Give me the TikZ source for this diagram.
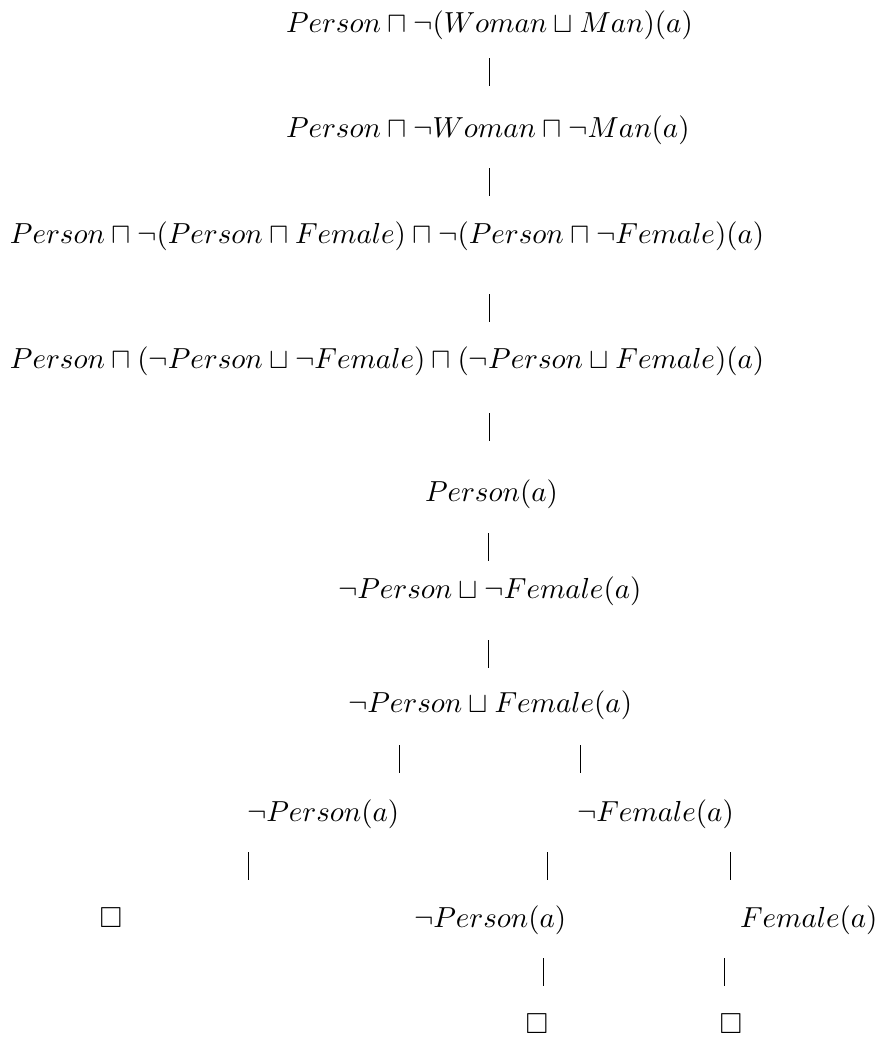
\documentclass[tikz,border=0pt]{standalone}
\usepackage{amssymb}
\begin{document}
\begin{tikzpicture}[x=0.345pt,y=-0.345pt,
  txt/.style={anchor=base west,inner sep=0pt,outer sep=0pt},
  cbox/.style={anchor=base,inner sep=0pt,outer sep=0pt},
  bar/.style={line width=0.3pt}]
\useasboundingbox (0,0) rectangle (880,1039);
% formulas
\node[txt] (l1) at (286,32) {$Person\sqcap\neg(Woman\sqcup Man)(a)$};
\node[txt] (l2) at (286,137) {$Person\sqcap\neg Woman\sqcap\neg Man(a)$};
\node[txt] (l3) at (10,243) {$Person\sqcap\neg(Person\sqcap Female)\sqcap\neg(Person\sqcap\neg Female)(a)$};
\node[txt] (l4) at (10,368) {$Person\sqcap(\neg Person\sqcup\neg Female)\sqcap(\neg Person\sqcup Female)(a)$};
\node[txt] (l5) at (425,501) {$Person(a)$};
\node[txt] (l6) at (338,598) {$\neg Person\sqcup\neg Female(a)$};
\node[txt] (l7) at (348,712) {$\neg Person\sqcup Female(a)$};
\node[txt] (l8a) at (247,821) {$\neg Person(a)$};
\node[txt] (l8b) at (577,821) {$\neg Female(a)$};
\node[cbox] (l9a) at (111,927) {$\Box$};
\node[txt] (l9b) at (414,927) {$\neg Person(a)$};
\node[txt] (l9c) at (740,927) {$Female(a)$};
\node[cbox] (l10a) at (537,1033) {$\Box$};
\node[cbox] (l10b) at (731,1033) {$\Box$};
% bar connectors
\coordinate (b1t) at (489,58);  \coordinate (b1b) at (489,86);
\coordinate (b2t) at (489,168); \coordinate (b2b) at (489,196);
\coordinate (b3t) at (489,294); \coordinate (b3b) at (489,322);
\coordinate (b4t) at (489,413); \coordinate (b4b) at (489,441);
\coordinate (b5t) at (488,533); \coordinate (b5b) at (488,561);
\coordinate (b6t) at (488,640); \coordinate (b6b) at (488,668);
\coordinate (b7at) at (399,745); \coordinate (b7ab) at (399,773);
\coordinate (b7bt) at (580,745); \coordinate (b7bb) at (580,773);
\coordinate (b8at) at (248,852); \coordinate (b8ab) at (248,880);
\coordinate (b8bt) at (547,852); \coordinate (b8bb) at (547,880);
\coordinate (b8ct) at (730,852); \coordinate (b8cb) at (730,880);
\coordinate (b9at) at (543,958); \coordinate (b9ab) at (543,986);
\coordinate (b9bt) at (724,958); \coordinate (b9bb) at (724,986);
\foreach \b in {b1,b2,b3,b4,b5,b6,b7a,b7b,b8a,b8b,b8c,b9a,b9b}
  \draw[bar] (\b t) -- (\b b);
\end{tikzpicture}
\end{document}
